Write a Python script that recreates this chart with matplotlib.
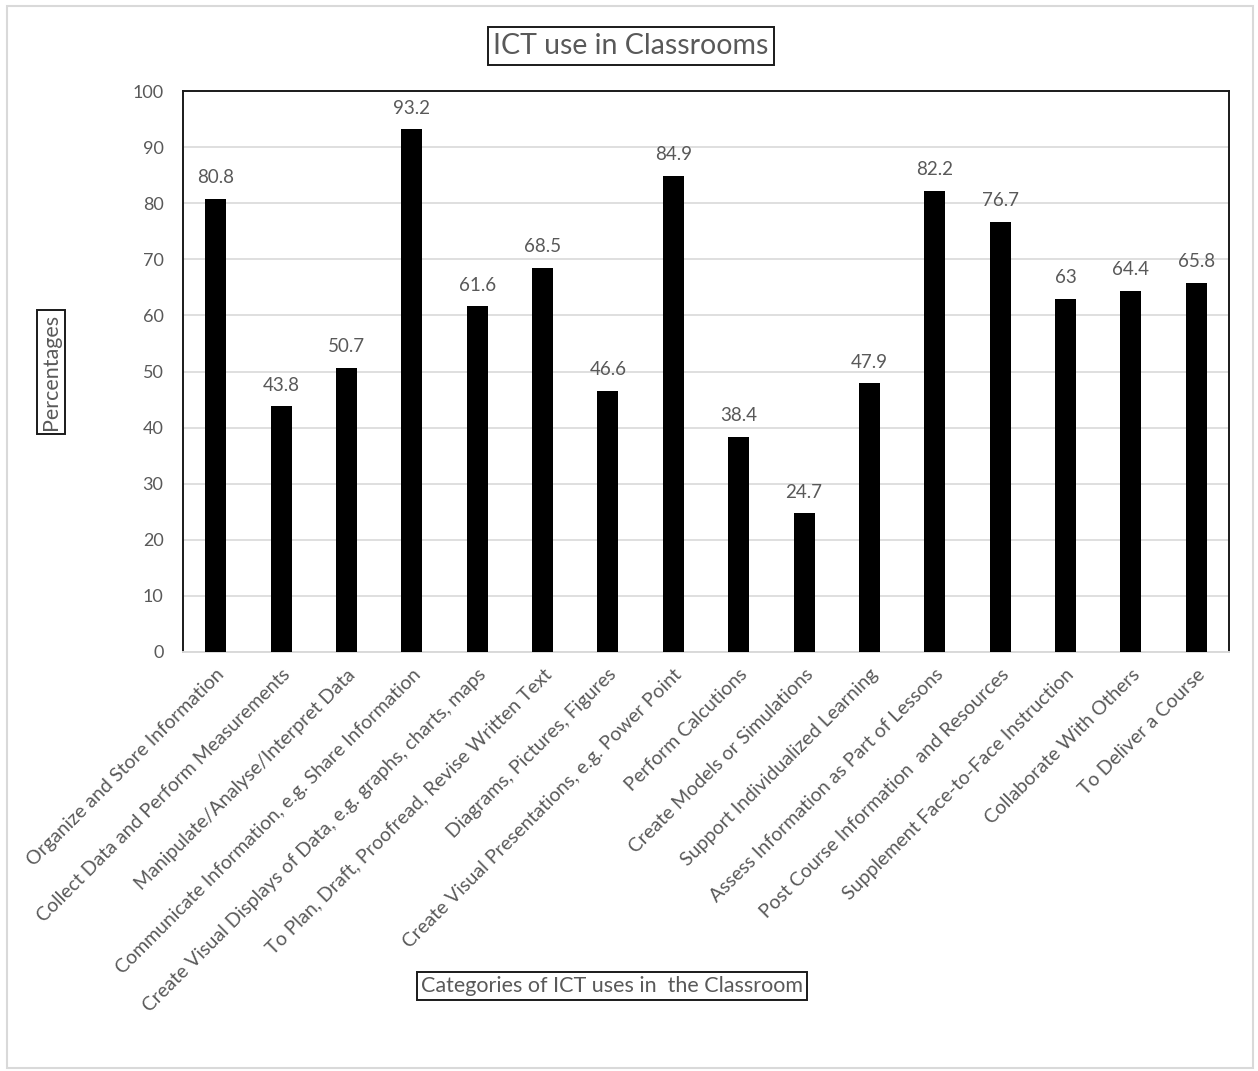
import matplotlib
matplotlib.use("Agg")
import matplotlib.pyplot as plt
from matplotlib.patches import Rectangle

categories = [
    "Organize and Store Information",
    "Collect Data and Perform Measurements",
    "Manipulate/Analyse/Interpret Data",
    "Communicate Information, e.g. Share Information",
    "Create Visual Displays of Data, e.g. graphs, charts, maps",
    "To Plan, Draft, Proofread, Revise Written Text",
    "Diagrams, Pictures, Figures",
    "Create Visual Presentations, e.g. Power Point",
    "Perform Calcutions",
    "Create Models or Simulations",
    "Support Individualized Learning",
    "Assess Information as Part of Lessons",
    "Post Course Information  and Resources",
    "Supplement Face-to-Face Instruction",
    "Collaborate With Others",
    "To Deliver a Course",
]
values = [80.8, 43.8, 50.7, 93.2, 61.6, 68.5, 46.6, 84.9, 38.4, 24.7, 47.9, 82.2, 76.7, 63, 64.4, 65.8]
value_labels = ["80.8", "43.8", "50.7", "93.2", "61.6", "68.5", "46.6", "84.9",
                "38.4", "24.7", "47.9", "82.2", "76.7", "63", "64.4", "65.8"]
y_ticks = [0, 10, 20, 30, 40, 50, 60, 70, 80, 90, 100]

plt.rcParams["font.family"] = ["Lato", "DejaVu Sans"]
text_grey = "#595959"

fig = plt.figure(figsize=(12.58, 10.71), dpi=100)
fig.patch.set_facecolor("white")

# light outer frame around the whole chart
fig.patches.append(Rectangle((7 / 1258, 3 / 1071), 1246 / 1258, 1062 / 1071,
                             transform=fig.transFigure, fill=False,
                             edgecolor="#d9d9d9", linewidth=1.5))

ax = fig.add_axes([183 / 1258, 1 - 652 / 1071, 1046 / 1258, 561 / 1071])
x = list(range(len(categories)))
ax.bar(x, values, width=0.32, color="black", zorder=3)

ax.set_xlim(-0.5, len(categories) - 0.5)
ax.set_ylim(0, 100)
ax.set_yticks(y_ticks)
ax.set_yticklabels([str(t) for t in y_ticks], color=text_grey, fontsize=13)
ax.yaxis.grid(True, color="#d9d9d9", linewidth=1.2, zorder=0)
ax.tick_params(axis="y", length=0, pad=14)
ax.tick_params(axis="x", length=0, pad=10)
ax.set_xticks(x)
ax.set_xticklabels(categories, rotation=45, ha="right", rotation_mode="anchor",
                   color=text_grey, fontsize=14)

for side in ("left", "top", "right"):
    ax.spines[side].set_color("#1a1a1a")
    ax.spines[side].set_linewidth(1.4)
ax.spines["bottom"].set_color("#d9d9d9")
ax.spines["bottom"].set_linewidth(1.4)

for xi, v, lab in zip(x, values, value_labels):
    ax.annotate(lab, (xi, v), xytext=(0, 9), textcoords="offset points",
                ha="center", va="bottom", color=text_grey, fontsize=13.5)

box = dict(boxstyle="square,pad=0.2", facecolor="white", edgecolor="#1a1a1a", linewidth=1.4)
fig.text(631 / 1258, 1 - 46 / 1071, "ICT use in Classrooms", ha="center", va="center",
         fontsize=20.5, color=text_grey, bbox=box)
fig.text(51 / 1258, 1 - 372 / 1071, "Percentages", ha="center", va="center",
         rotation=90, fontsize=15.5, color=text_grey, bbox=box)
fig.text(612 / 1258, 1 - 986 / 1071, "Categories of ICT uses in  the Classroom",
         ha="center", va="center", fontsize=15.5, color=text_grey, bbox=box)

fig.savefig("out.png", dpi=100, facecolor="white")
